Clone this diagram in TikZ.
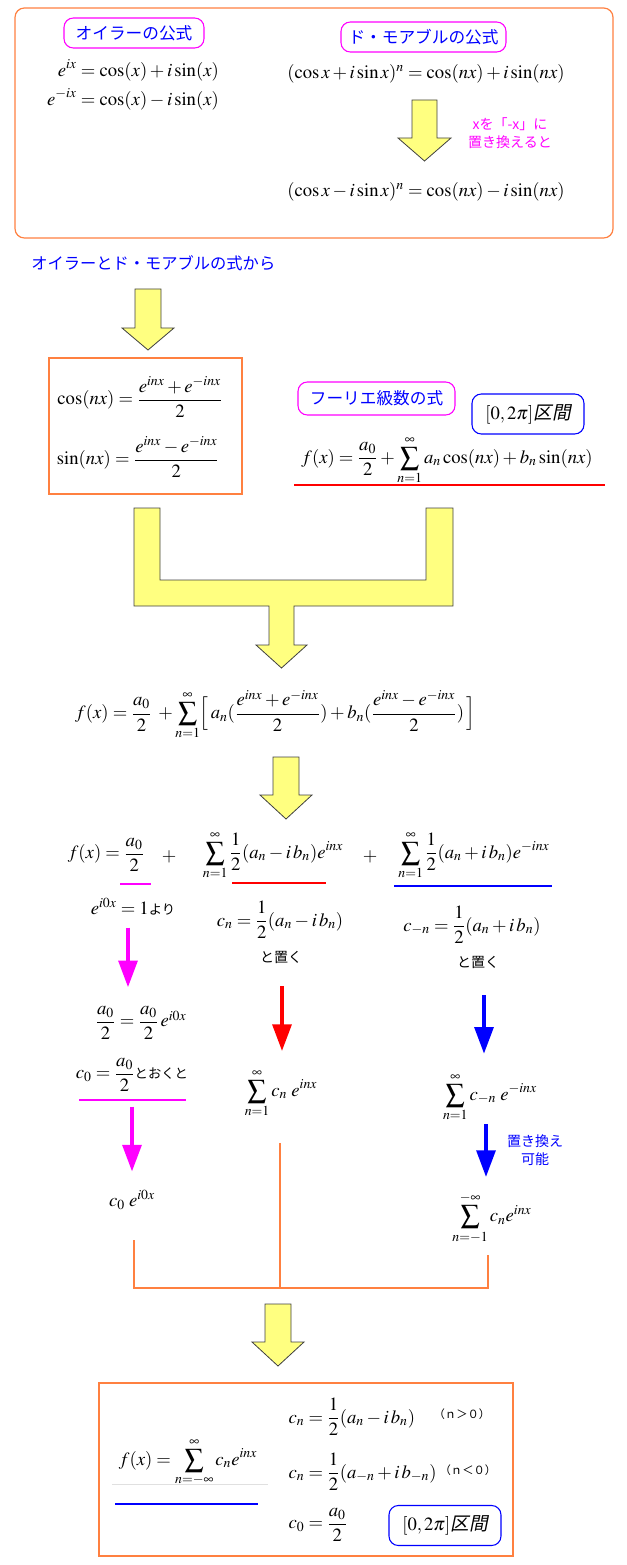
\documentclass[tikz,border=0pt]{standalone}
\usepackage{amsmath}
\usepackage{mathptmx}
\usepackage[no-math]{fontspec}
\setmainfont{Noto Sans CJK JP}
\newfontfamily\jpslant[FakeSlant=0.2]{Noto Sans CJK JP}
\usetikzlibrary{positioning,arrows.meta,fit,calc}
\definecolor{frorange}{HTML}{FF8040}
\definecolor{lbmagenta}{HTML}{FF00FF}
\definecolor{lbblue}{HTML}{0000FF}
\definecolor{blkyellow}{HTML}{FFFF80}
\definecolor{ulred}{HTML}{FF0000}

\begin{document}
\begin{tikzpicture}[
  x=0.75pt, y=-0.75pt,
  font=\fontsize{14}{17}\selectfont,
  obox/.style={draw=frorange, line width=0.9pt, inner sep=0pt},
  lbl/.style={draw=lbmagenta, rounded corners=7pt, line width=0.8pt, text=lbblue,
              inner sep=0pt, font=\fontsize{12.5}{14}\selectfont},
  ivbox/.style={draw=lbblue, rounded corners=7pt, line width=0.8pt, inner sep=0pt,
                font=\fontsize{14}{16}\selectfont, minimum width=112*\px, minimum height=40*\px},
  eq/.style={inner sep=1pt},
  note/.style={inner sep=1pt, font=\fontsize{10.5}{14}\selectfont},
  blk/.style={fill=blkyellow, draw=black!75, line width=0.6pt},
  ul/.style={line width=1.5pt},
  carr/.style={line width=3pt, -{Triangle[length=20pt, width=14pt]}},
  obrk/.style={draw=frorange, line width=1.1pt},
]
\def\px{0.75pt}   % one pixel of the reference
\def\jsmall{\fontsize{10}{12}\selectfont}
\useasboundingbox (0,0) rectangle (627,1565);

% ================= EULER / DE MOIVRE =================
\node[obox, rounded corners=7pt, fit={(15,8) (613,238)}] (topbox) {};
\node[lbl, minimum width=140*\px, minimum height=30*\px] (eulerlbl) at (134,33) {オイラーの公式};
\node[eq] (euler) at (133,86)
     {$\begin{aligned} e^{ix}&=\cos(x)+i\sin(x)\\ e^{-ix}&=\cos(x)-i\sin(x)\end{aligned}$};
\node[lbl, minimum width=165*\px, minimum height=30*\px] (dmlbl) at (423.5,37) {ド・モアブルの公式};
\node[eq] (dmplus) at (426,74) {$(\cos x+i\sin x)^n=\cos(nx)+i\sin(nx)$};
\node[note, text=lbmagenta, align=center] (subst) at (510,133) {xを「-x」に\\置き換えると};
\node[eq] (dmminus) at (426,192) {$(\cos x-i\sin x)^n=\cos(nx)-i\sin(nx)$};
\draw[blk] (412,100) -- (437,100) -- (437,138) -- (451,138) -- (424.5,161)
           -- (398,138) -- (412,138) -- cycle;

% ================= COS / SIN and FOURIER =================
\node[text=lbblue, anchor=west, inner sep=0pt, font=\fontsize{12.2}{14}\selectfont] (fromtxt)
     at (31,263) {オイラーとド・モアブルの式から};
\draw[blk] (135,289) -- (161,289) -- (161,328) -- (174,328) -- (148,350)
           -- (122,328) -- (135,328) -- cycle;
\node[obox, fit={(49,358) (242,494)}] (csbox) {};
\node[eq] (cosn) at (140,397) {$\cos(nx)=\dfrac{e^{inx}+e^{-inx}}{2}$};
\node[eq] (sinn) at (138,457) {$\sin(nx)=\dfrac{e^{inx}-e^{-inx}}{2}$};

\node[lbl, minimum width=157*\px, minimum height=33*\px] (fslbl) at (376.5,398.5) {フーリエ級数の式};
\node[ivbox] (ivtop) at (528,414) {$[0,2\pi]$\jpslant 区間};
\node[eq] (fseries) at (447,460)
     {$\displaystyle f(x)=\frac{a_0}{2}+\sum_{n=1}^{\infty}a_n\cos(nx)+b_n\sin(nx)$};
\draw[ul, ulred] (294,485) -- (605,485);

% ================= MERGE =================
\draw[blk] (134,508) -- (160,508) -- (160,580) -- (426,580) -- (426,508) -- (453,508)
           -- (453,606) -- (294,606) -- (294,645) -- (307,645) -- (281.5,668)
           -- (256,645) -- (269,645) -- (269,606) -- (134,606) -- cycle;
\node[eq] (fsub) at (275,715)
     {$\displaystyle f(x)=\frac{a_0}{2}\;+\sum_{n=1}^{\infty}\Bigl[\,a_n(\frac{e^{inx}+e^{-inx}}{2})
      +b_n(\frac{e^{inx}-e^{-inx}}{2})\,\Bigr]$};
\draw[blk] (273,757) -- (299,757) -- (299,795) -- (312,795) -- (286,819)
           -- (260,795) -- (273,795) -- cycle;

% ================= THREE TERMS =================
\node[eq] (ahalf) at (106,855) {$f(x)=\dfrac{a_0}{2}$};
\node[eq] (plusa) at (169,857) {$\boldsymbol{+}$};
\node[eq] (sumpos) at (273,855) {$\displaystyle\sum_{n=1}^{\infty}\frac{1}{2}(a_n-i\,b_n)e^{inx}$};
\node[eq] (plusb) at (370,857) {$\boldsymbol{+}$};
\node[eq] (summin) at (474,855) {$\displaystyle\sum_{n=1}^{\infty}\frac{1}{2}(a_n+i\,b_n)e^{-inx}$};
\draw[ul, lbmagenta] (120,884) -- (151,884);
\draw[ul, ulred] (232,883) -- (326,883);
\draw[ul, lbblue] (394,886) -- (552,886);

\node[eq] (eone) at (133,907) {$e^{i0x}=1${\jsmall より}};
\node[eq] (cndef) at (280,920) {$c_n=\dfrac{1}{2}(a_n-i\,b_n)$};
\node[note] (putpos) at (281,957) {と置く};
\node[eq] (cmdef) at (472,925) {$c_{-n}=\dfrac{1}{2}(a_n+i\,b_n)$};
\node[note] (putmin) at (478,962) {と置く};

% left column
\node[eq] (azero) at (141,1023) {$\dfrac{a_0}{2}=\dfrac{a_0}{2}\,e^{i0x}$};
\node[eq] (czdef) at (132,1075) {$c_0=\dfrac{a_0}{2}${\jsmall とおくと}};
\draw[ul, lbmagenta] (79,1100) -- (186,1100);
\node[eq] (czexp) at (132,1200) {$c_0\;e^{i0x}$};
\draw[carr, lbmagenta, shorten <=8pt, shorten >=13pt] (eone.south -| 128,0) -- (azero.north -| 128,0);
\draw[carr, lbmagenta, shorten <=10pt, shorten >=13pt] (czdef.south -| 132,0) -- (czexp.north -| 132,0);

% middle column
\node[eq] (sumcn) at (281,1093) {$\displaystyle\sum_{n=1}^{\infty}c_n\;e^{inx}$};
\draw[carr, ulred, shorten <=16pt, shorten >=12pt] (putpos.south -| 282,0) -- (sumcn.north -| 282,0);

% right column
\node[eq] (sumcm) at (490,1097) {$\displaystyle\sum_{n=1}^{\infty}c_{-n}\;e^{-inx}$};
\node[note, text=lbblue, align=center] (swap) at (535,1150) {置き換え\\可能};
\node[eq] (sumneg) at (492,1218) {$\displaystyle\sum_{n=-1}^{-\infty}c_n e^{inx}$};
\draw[carr, lbblue, shorten <=19pt, shorten >=13pt] (putmin.south -| 484,0) -- (sumcm.north -| 484,0);
\draw[carr, lbblue, shorten <=1pt, shorten >=10pt] (sumcm.south -| 486,0) -- (sumneg.north -| 486,0);

% join
\coordinate (join) at (280,1288);
\draw[obrk, shorten <=22pt] (czexp.south -| 134,0) |- (join);
\draw[obrk, shorten <=18pt] (sumcn.south -| 280,0) -- (join);
\draw[obrk, shorten <=7pt] (sumneg.south -| 488,0) |- (join);
\draw[blk] (265,1304) -- (291,1304) -- (291,1342) -- (304,1342) -- (278,1366)
           -- (252,1342) -- (265,1342) -- cycle;

% ================= RESULT =================
\node[obox, line width=1.5pt, fit={(99,1383) (513,1556)}] (finbox) {};
\node[eq] (fexp) at (188,1462) {$\displaystyle f(x)=\sum_{n=-\infty}^{\infty}c_n e^{inx}$};
\draw[black!12, line width=0.6pt] (112,1484) -- (268,1484);
\draw[ul, lbblue] (115,1504) -- (258,1504);
\node[eq, anchor=west] (cnpos) at (287,1417) {$c_n=\dfrac{1}{2}(a_n-i\,b_n)$};
\node[note, anchor=west, font=\fontsize{8.5}{10}\selectfont] (npos) at (432,1414) {（ｎ＞０）};
\node[eq, anchor=west] (cnneg) at (287,1472) {$c_n=\dfrac{1}{2}(a_{-n}+i\,b_{-n})$};
\node[note, anchor=west, font=\fontsize{8.5}{10}\selectfont] (nneg) at (438,1470) {（ｎ＜０）};
\node[eq, anchor=west] (czfin) at (287,1525) {$c_0=\dfrac{a_0}{2}$};
\node[ivbox] (ivbot) at (445,1525.5) {$[0,2\pi]$\jpslant 区間};
\end{tikzpicture}
\end{document}
